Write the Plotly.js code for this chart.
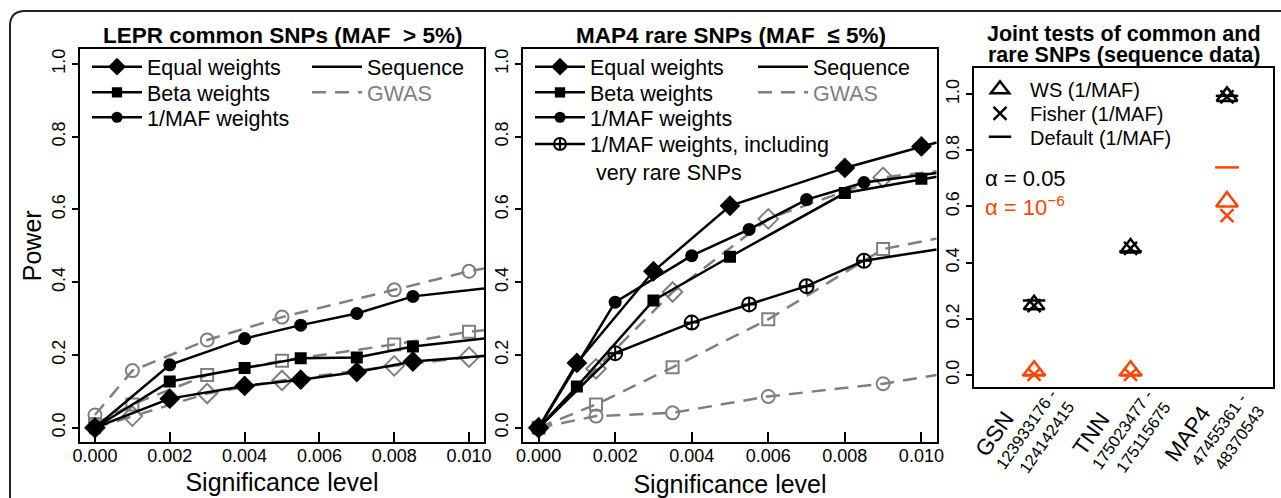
<!DOCTYPE html>
<html><head><meta charset="utf-8">
<script src="https://cdn.plot.ly/plotly-3.0.1.min.js"></script>
<style>html,body{margin:0;padding:0;background:#fff}#chart{width:1281px;height:498px}</style>
</head><body><div id="chart"></div>
<script>
// ---------- Panel 1: LEPR common SNPs ----------
const leprSeqX      = [0, 0.002, 0.004, 0.0055, 0.007, 0.0085, 0.0104];
const leprSeqEqual  = [0, 0.080, 0.115, 0.132, 0.153, 0.182, 0.197];
const leprSeqBeta   = [0, 0.127, 0.164, 0.191, 0.193, 0.223, 0.245];
const leprSeqMaf    = [0, 0.173, 0.245, 0.282, 0.314, 0.361, 0.383];
const leprGwasX     = [0, 0.001, 0.003, 0.005, 0.008, 0.010, 0.0104];
const leprGwasEqual = [0, 0.032, 0.094, 0.130, 0.170, 0.194, 0.198];
const leprGwasBeta  = [0.010, 0.064, 0.145, 0.184, 0.229, 0.264, 0.268];
const leprGwasMaf   = [0.035, 0.157, 0.241, 0.304, 0.379, 0.430, 0.438];

// ---------- Panel 2: MAP4 rare SNPs ----------
const map4SeqX1      = [0, 0.001, 0.003, 0.005, 0.008, 0.010, 0.0104];
const map4SeqEqual   = [0, 0.178, 0.430, 0.610, 0.714, 0.773, 0.784];
const map4SeqBeta    = [0, 0.113, 0.350, 0.470, 0.645, 0.684, 0.690];
const map4SeqX2      = [0, 0.002, 0.004, 0.0055, 0.007, 0.0085, 0.0104];
const map4SeqMaf     = [0, 0.345, 0.473, 0.545, 0.627, 0.674, 0.700];
const map4SeqMafRare = [0, 0.205, 0.289, 0.339, 0.389, 0.459, 0.490];
const map4GwasX      = [0, 0.0015, 0.0035, 0.006, 0.009, 0.0104];
const map4GwasEqual  = [0, 0.162, 0.373, 0.574, 0.688, 0.705];
const map4GwasBeta   = [0, 0.064, 0.166, 0.298, 0.491, 0.520];
const map4GwasMaf    = [0, 0.032, 0.041, 0.086, 0.121, 0.145];

// ---------- Panel 3: joint tests ----------
const jointLoci   = ['GSN', 'TNN', 'MAP4'];
const jointStart  = ['123933176', '175023477', '47455361'];
const jointEnd    = ['124142415', '175115675', '48370543'];
const wsA05       = [0.250, 0.452, 0.992];
const fisherA05   = [0.247, 0.451, 0.990];
const defaultA05  = [0.265, 0.440, 0.994];
const wsA1e6      = [0.015, 0.015, 0.617];
const fisherA1e6  = [0.002, 0.002, 0.567];
const defaultA1e6 = [0.000, 0.000, 0.739];

const sigTicks = [0, 0.002, 0.004, 0.006, 0.008, 0.010];
const powTicks = [0, 0.2, 0.4, 0.6, 0.8, 1.0];

const FONT = 'Liberation Sans, Arial, Helvetica, sans-serif';
const BLACK = '#000000', GRAY = '#7f7f7f', RED = '#ff4500';
const W = 1281, H = 498;
const px = v => v / W, py = v => 1 - v / H;

function sizes(n, s) { const a = new Array(n).fill(s); a[n-1] = 0; return a; }

function seqTrace(x, y, sym, s, name, xa, ya, leg) {
  return {x: x, y: y, xaxis: xa, yaxis: ya, type: 'scatter', mode: 'lines+markers', name: name,
    legend: leg, showlegend: true,
    line: {color: BLACK, width: 2.5},
    marker: {symbol: sym, size: sizes(x.length, s), opacity: 1, color: BLACK,
      line: {width: sym.indexOf('open') >= 0 ? 2 : 0, color: BLACK}}};
}
function gwasTrace(x, y, sym, s, xa, ya) {
  return {x: x, y: y, xaxis: xa, yaxis: ya, type: 'scatter', mode: 'lines+markers', showlegend: false,
    line: {color: GRAY, width: 2.5, dash: '14px,9px'},
    marker: {symbol: sym, size: sizes(x.length, s), opacity: 1, color: GRAY, line: {width: 2, color: GRAY}}};
}
function keyTrace(name, color, dash, leg, xa, ya) {
  return {x: [null], y: [null], xaxis: xa, yaxis: ya, type: 'scatter', mode: 'lines', name: name, legend: leg,
    showlegend: true, line: {color: color, width: 2.5, dash: dash}};
}

const catX = jointLoci.map((_, i) => i + 1);
function jointTrace(y, sym, s, color, name, leg) {
  return {x: catX, y: y, xaxis: 'x3', yaxis: 'y3', type: 'scatter', mode: 'markers', name: name || '',
    legend: leg, showlegend: !!name, cliponaxis: false,
    marker: {symbol: sym, size: s, opacity: 1, color: color, line: {width: 2.5, color: color}}};
}

const traces = [
  gwasTrace(leprGwasX, leprGwasEqual, 'diamond-open', 15, 'x', 'y'),
  gwasTrace(leprGwasX, leprGwasBeta, 'square-open', 12, 'x', 'y'),
  gwasTrace(leprGwasX, leprGwasMaf, 'circle-open', 13, 'x', 'y'),
  seqTrace(leprSeqX, leprSeqEqual, 'diamond', 16, 'Equal weights', 'x', 'y', 'legend'),
  seqTrace(leprSeqX, leprSeqBeta, 'square', 12, 'Beta weights', 'x', 'y', 'legend2'),
  seqTrace(leprSeqX, leprSeqMaf, 'circle', 13, '1/MAF weights', 'x', 'y', 'legend3'),
  keyTrace('Sequence', BLACK, 'solid', 'legend4', 'x', 'y'),
  keyTrace('<span style="color:#7f7f7f">GWAS</span>', GRAY, '14px,9px', 'legend5', 'x', 'y'),

  gwasTrace(map4GwasX, map4GwasEqual, 'diamond-open', 15, 'x2', 'y2'),
  gwasTrace(map4GwasX, map4GwasBeta, 'square-open', 12, 'x2', 'y2'),
  gwasTrace(map4GwasX, map4GwasMaf, 'circle-open', 13, 'x2', 'y2'),
  seqTrace(map4SeqX1, map4SeqEqual, 'diamond', 16, 'Equal weights', 'x2', 'y2', 'legend6'),
  seqTrace(map4SeqX1, map4SeqBeta, 'square', 12, 'Beta weights', 'x2', 'y2', 'legend7'),
  seqTrace(map4SeqX2, map4SeqMaf, 'circle', 13, '1/MAF weights', 'x2', 'y2', 'legend8'),
  seqTrace(map4SeqX2, map4SeqMafRare, 'circle-cross-open', 14, '1/MAF weights, including<br>&nbsp;very rare SNPs', 'x2', 'y2', 'legend9'),
  keyTrace('Sequence', BLACK, 'solid', 'legend10', 'x2', 'y2'),
  keyTrace('<span style="color:#7f7f7f">GWAS</span>', GRAY, '14px,9px', 'legend11', 'x2', 'y2'),

  jointTrace(wsA1e6, 'triangle-up-open', 19, RED, null, 'legend12'),
  jointTrace(fisherA1e6, 'x-thin-open', 13, RED, null, 'legend12'),
  jointTrace(defaultA1e6, 'line-ew-open', 17, RED, null, 'legend12'),
  jointTrace(wsA05, 'triangle-up-open', 18, BLACK, 'WS (1/MAF)', 'legend12'),
  jointTrace(fisherA05, 'x-thin-open', 13, BLACK, 'Fisher (1/MAF)', 'legend13'),
  jointTrace(defaultA05, 'line-ew-open', 16, BLACK, 'Default (1/MAF)', 'legend14')
];

const tickFont = {family: FONT, size: 18, color: BLACK};
function xSig(dom, anchor, standoff) {
  return {domain: dom, anchor: anchor, range: [-0.0004, 0.0104], tickvals: sigTicks, tickformat: '.3f',
    ticks: 'inside', ticklen: 10, tickwidth: 2, tickcolor: BLACK, ticklabelstandoff: -4,
    showline: true, mirror: true, linewidth: 2, linecolor: BLACK, showgrid: false, zeroline: false,
    tickfont: tickFont, fixedrange: true,
    title: {text: 'Significance level', font: {family: FONT, size: 25, color: BLACK}, standoff: standoff}};
}
function yPow(dom, anchor, range, title) {
  const o = {domain: dom, anchor: anchor, range: range, tickvals: powTicks, tickformat: '.1f',
    ticks: 'outside', ticklen: 6, tickwidth: 2, tickcolor: BLACK, tickangle: -90,
    showline: true, mirror: true, linewidth: 2, linecolor: BLACK, showgrid: false, zeroline: false,
    tickfont: tickFont, fixedrange: true};
  if (title) o.title = {text: title, font: {family: FONT, size: 25, color: BLACK}, standoff: 0};
  return o;
}

const yDomMain = [py(442.3), py(49.3)];
// one legend box per entry so that rows sit where the reference puts them
function leg(x, rowY, size) {
  const fs = size || 21.5;
  return {x: px(x), y: py(rowY - (5 + (1.3 * fs + 3) / 2)), xanchor: 'left', yanchor: 'top',
    bgcolor: 'rgba(0,0,0,0)', borderwidth: 0, font: {family: FONT, size: fs, color: BLACK},
    itemwidth: 50, itemclick: false, itemdoubleclick: false, valign: 'top'};
}

const titleFont = {family: FONT, size: 22.5, color: BLACK};
const annotations = [
  {text: '<b>LEPR common SNPs (MAF&nbsp; &gt; 5%)</b>', x: px(282), y: py(35.7), xref: 'paper', yref: 'paper', showarrow: false, font: titleFont, xanchor: 'center', yanchor: 'middle'},
  {text: '<b>MAP4 rare SNPs (MAF&nbsp; ≤ 5%)</b>', x: px(730.5), y: py(35.7), xref: 'paper', yref: 'paper', showarrow: false, font: titleFont, xanchor: 'center', yanchor: 'middle'},
  {text: '<b>Joint tests of common and</b>', x: px(1124), y: py(34), xref: 'paper', yref: 'paper', showarrow: false, font: {family: FONT, size: 21.5, color: BLACK}, xanchor: 'center', yanchor: 'middle'},
  {text: '<b>rare SNPs (sequence data)</b>', x: px(1124), y: py(54.5), xref: 'paper', yref: 'paper', showarrow: false, font: {family: FONT, size: 21.5, color: BLACK}, xanchor: 'center', yanchor: 'middle'},
  {text: 'α = 0.05', x: px(983), y: py(178), xref: 'paper', yref: 'paper', showarrow: false, font: {family: FONT, size: 22, color: BLACK}, xanchor: 'left', yanchor: 'middle'},
  {text: 'α = 10<sup>−6</sup>', x: px(983), y: py(206), xref: 'paper', yref: 'paper', showarrow: false, font: {family: FONT, size: 22, color: RED}, xanchor: 'left', yanchor: 'middle'}
];
// category labels of the joint-test panel: locus name plus its position range, rotated
jointLoci.forEach((g, i) => {
  annotations.push({text: g, x: catX[i], xref: 'x3', y: py(434), yref: 'paper', xshift: -40,
    textangle: -55, showarrow: false, xanchor: 'center', yanchor: 'middle',
    font: {family: FONT, size: 22.5, color: BLACK}});
  annotations.push({text: jointStart[i] + ' -<br>' + jointEnd[i], x: catX[i], xref: 'x3', y: py(435), yref: 'paper', xshift: 0,
    textangle: -55, showarrow: false, xanchor: 'center', yanchor: 'middle', align: 'right',
    font: {family: FONT, size: 16.5, color: BLACK}});
});

const layout = {
  width: W, height: H, margin: {l: 0, r: 0, t: 0, b: 0},
  paper_bgcolor: '#ffffff', plot_bgcolor: '#ffffff', showlegend: true,
  font: {family: FONT, color: BLACK},
  xaxis: xSig([px(80), px(484)], 'y', 9),
  yaxis: yPow(yDomMain, 'x', [-0.04, 1.04], 'Power'),
  xaxis2: xSig([px(523.3), px(936.7)], 'y2', 13),
  yaxis2: yPow(yDomMain, 'x2', [-0.04, 1.04], null),
  xaxis3: {domain: [px(974.3), px(1273.3)], anchor: 'y3', range: [0.38, 3.48], tickvals: catX,
    showticklabels: false, ticks: '', showline: true, mirror: true, linewidth: 2, linecolor: BLACK,
    showgrid: false, zeroline: false, fixedrange: true},
  yaxis3: yPow([py(386.7), py(68.3)], 'x3', [-0.042, 1.092], null),
  legend:   leg(87, 66.7),
  legend2:  leg(87, 92.3),
  legend3:  leg(87, 117.3),
  legend4:  leg(307, 66.7),
  legend5:  leg(307, 92.3),
  legend6:  leg(530, 66.7),
  legend7:  leg(530, 92.3),
  legend8:  leg(530, 117.3),
  legend9:  leg(530, 144),
  legend10: leg(753, 66.7),
  legend11: leg(753, 92.3),
  legend12: leg(970, 89.3, 20),
  legend13: leg(970, 113.3, 20),
  legend14: leg(970, 136.7, 20),
  annotations: annotations,
  shapes: [
    {type: 'path', xref: 'paper', yref: 'paper',
     path: 'M ' + px(10) + ',' + py(520) + ' L ' + px(10) + ',' + py(26) + ' Q ' + px(10) + ',' + py(11) + ' ' + px(25) + ',' + py(11) + ' L ' + px(1300) + ',' + py(11),
     line: {color: '#222222', width: 2}}
  ]
};

Plotly.newPlot('chart', traces, layout, {staticPlot: true, displayModeBar: false});
</script></body></html>
